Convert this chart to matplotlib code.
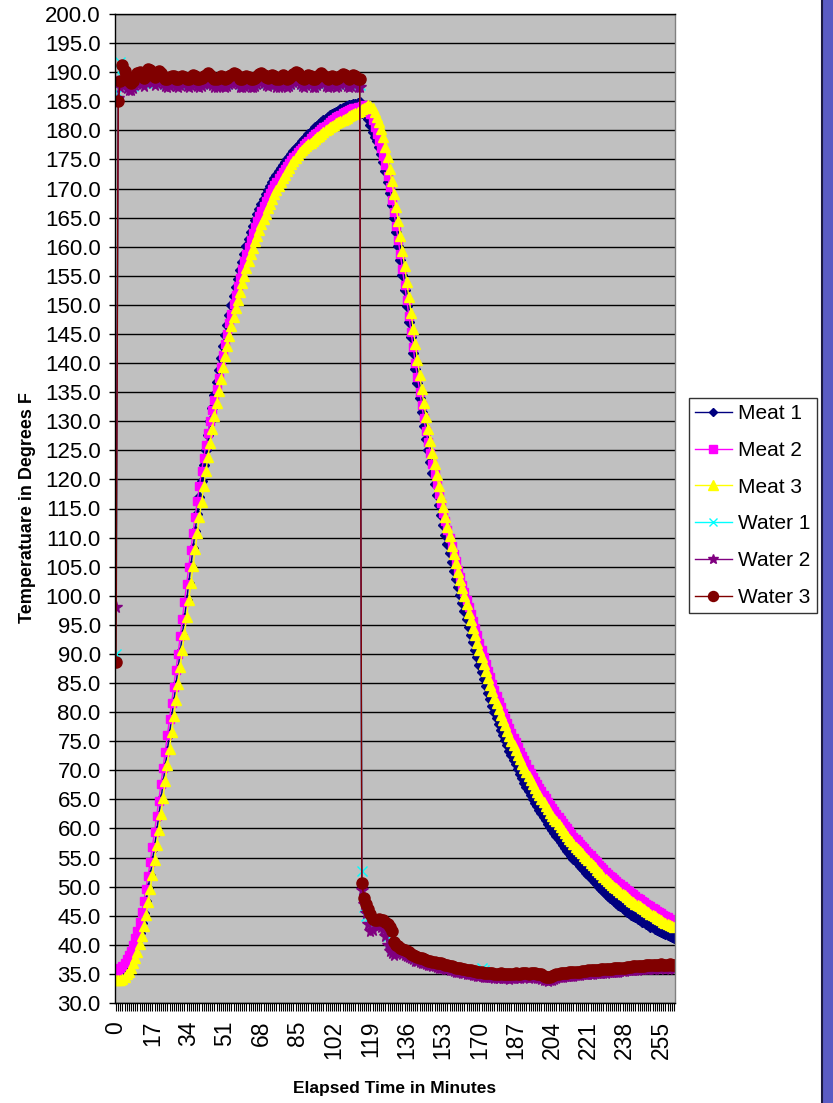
import numpy as np
import matplotlib
matplotlib.use("Agg")
import matplotlib.pyplot as plt
from matplotlib.patches import Rectangle
from matplotlib.lines import Line2D

plt.rcParams['font.family'] = ['Liberation Sans', 'DejaVu Sans']

# Temperatures (deg F), one reading per minute, rows of 10 values
meat1 = [
    34.8, 34.9, 35.1, 35.4, 35.8, 36.3, 36.9, 37.6, 38.5, 39.5,
    40.7, 42.1, 43.7, 45.5, 47.5, 49.7, 52.0, 54.4, 56.9, 59.5,
    62.2, 65.0, 67.8, 70.6, 73.4, 76.2, 79.0, 81.8, 84.6, 87.4,
    90.3, 93.2, 96.2, 99.2, 102.2, 105.2, 108.2, 111.2, 114.1, 117.0,
    119.8, 122.5, 125.1, 127.6, 130.0, 132.3, 134.5, 136.7, 138.8, 140.9,
    142.9, 144.8, 146.6, 148.3, 149.9, 151.5, 153.0, 154.5, 156.0, 157.4,
    158.8, 160.1, 161.3, 162.5, 163.6, 164.6, 165.6, 166.5, 167.4, 168.2,
    169.0, 169.8, 170.5, 171.2, 171.8, 172.4, 173.0, 173.5, 174.0, 174.5,
    175.0, 175.5, 176.0, 176.5, 176.9, 177.3, 177.7, 178.1, 178.5, 178.9,
    179.3, 179.7, 180.1, 180.5, 180.8, 181.1, 181.4, 181.7, 182.0, 182.3,
    182.6, 182.8, 183.0, 183.2, 183.4, 183.6, 183.8, 184.0, 184.2, 184.3,
    184.4, 184.5, 184.6, 184.7, 184.8, 183.0, 183.1, 182.8, 182.0, 181.0,
    179.8, 178.9, 178.1, 177.2, 176.0, 174.6, 173.0, 171.2, 169.2, 167.1,
    164.9, 162.6, 160.2, 157.7, 155.1, 152.5, 149.8, 147.1, 144.4, 141.7,
    139.0, 136.5, 134.0, 131.6, 129.2, 127.0, 125.0, 123.0, 121.1, 119.2,
    117.4, 115.6, 113.9, 112.2, 110.5, 108.9, 107.3, 105.8, 104.3, 102.9,
    101.5, 100.1, 98.8, 97.4, 96.0, 94.6, 93.3, 92.0, 90.7, 89.4,
    88.1, 86.9, 85.7, 84.5, 83.3, 82.2, 81.1, 80.0, 79.0, 78.0,
    77.0, 76.1, 75.2, 74.3, 73.4, 72.6, 71.8, 71.0, 70.2, 69.4,
    68.6, 67.9, 67.2, 66.5, 65.8, 65.1, 64.4, 63.8, 63.2, 62.6,
    62.0, 61.4, 60.8, 60.2, 59.7, 59.2, 58.7, 58.2, 57.7, 57.2,
    56.7, 56.2, 55.7, 55.3, 54.8, 54.4, 54.0, 53.6, 53.2, 52.8,
    52.4, 52.0, 51.6, 51.2, 50.8, 50.4, 50.0, 49.6, 49.2, 48.8,
    48.4, 48.1, 47.8, 47.5, 47.2, 46.9, 46.6, 46.3, 46.0, 45.7,
    45.4, 45.1, 45.0, 44.7, 44.5, 44.3, 44.0, 43.9, 43.6, 43.4,
    43.1, 43.0, 42.8, 42.6, 42.4, 42.2, 42.1, 41.9, 41.7, 41.6,
    41.4, 41.2,
]

meat2 = [
    35.5, 35.7, 36.0, 36.4, 36.9, 37.5, 38.2, 39.0, 40.0, 41.1,
    42.4, 43.9, 45.6, 47.5, 49.6, 51.9, 54.3, 56.8, 59.4, 62.1,
    64.8, 67.6, 70.4, 73.2, 76.0, 78.8, 81.6, 84.4, 87.2, 90.0,
    93.0, 96.0, 99.0, 102.0, 105.0, 107.9, 110.8, 113.6, 116.3, 118.9,
    121.4, 123.7, 125.9, 128.0, 130.0, 131.9, 133.7, 135.6, 137.5, 139.4,
    141.3, 143.2, 145.0, 146.8, 148.5, 150.1, 151.7, 153.2, 154.7, 156.1,
    157.5, 158.8, 160.0, 161.2, 162.3, 163.4, 164.4, 165.3, 166.2, 167.0,
    167.8, 168.6, 169.3, 170.0, 170.6, 171.2, 171.8, 172.4, 172.9, 173.4,
    173.9, 174.4, 174.9, 175.4, 175.8, 176.2, 176.6, 177.0, 177.4, 177.8,
    178.2, 178.6, 179.0, 179.3, 179.6, 179.9, 180.2, 180.5, 180.8, 181.1,
    181.4, 181.7, 182.0, 182.3, 182.5, 182.7, 182.9, 183.1, 183.3, 183.5,
    183.7, 183.8, 183.9, 184.0, 184.1, 184.2, 184.3, 184.0, 183.6, 182.8,
    181.8, 180.6, 179.3, 178.2, 177.0, 175.6, 174.0, 172.2, 170.2, 168.1,
    165.9, 163.6, 161.2, 158.7, 156.1, 153.5, 150.8, 148.1, 145.4, 142.7,
    140.0, 137.6, 135.1, 132.8, 130.5, 128.3, 126.4, 124.5, 122.7, 120.9,
    119.2, 117.5, 115.9, 114.3, 112.8, 111.3, 109.9, 108.5, 107.2, 105.9,
    104.5, 103.2, 101.9, 100.6, 99.3, 98.0, 96.8, 95.6, 94.4, 93.2,
    91.9, 90.7, 89.5, 88.3, 87.1, 86.0, 84.9, 83.8, 82.8, 81.8,
    80.8, 79.9, 79.0, 78.1, 77.2, 76.4, 75.6, 74.8, 74.0, 73.2,
    72.4, 71.7, 71.0, 70.3, 69.6, 68.9, 68.2, 67.6, 67.0, 66.4,
    65.8, 65.2, 64.6, 64.0, 63.5, 63.0, 62.5, 62.0, 61.5, 61.0,
    60.5, 60.0, 59.5, 59.1, 58.6, 58.2, 57.8, 57.4, 57.0, 56.6,
    56.2, 55.8, 55.4, 55.0, 54.6, 54.2, 53.8, 53.4, 53.0, 52.6,
    52.2, 51.9, 51.6, 51.3, 51.0, 50.7, 50.4, 50.1, 49.8, 49.5,
    49.2, 48.9, 48.7, 48.4, 48.1, 47.9, 47.6, 47.4, 47.1, 46.9,
    46.6, 46.3, 46.1, 45.8, 45.6, 45.4, 45.1, 44.9, 44.7, 44.5,
    44.3, 44.0,
]

meat3 = [
    34.0, 33.9, 34.0, 34.2, 34.5, 34.9, 35.4, 36.0, 36.8, 37.7,
    38.8, 40.1, 41.6, 43.3, 45.2, 47.3, 49.6, 52.0, 54.5, 57.1,
    59.8, 62.5, 65.3, 68.1, 70.9, 73.7, 76.5, 79.3, 82.1, 84.9,
    87.7, 90.6, 93.5, 96.4, 99.3, 102.2, 105.1, 108.0, 110.8, 113.5,
    116.2, 118.8, 121.4, 123.9, 126.3, 128.6, 130.9, 133.1, 135.2, 137.3,
    139.3, 141.2, 143.0, 144.7, 146.3, 147.9, 149.4, 150.9, 152.3, 153.7,
    155.0, 156.3, 157.5, 158.7, 159.8, 160.9, 161.9, 162.9, 163.9, 164.8,
    165.7, 166.6, 167.4, 168.2, 169.0, 169.7, 170.4, 171.1, 171.8, 172.4,
    173.0, 173.6, 174.2, 174.8, 175.3, 175.8, 176.2, 176.6, 177.0, 177.3,
    177.6, 177.9, 178.2, 178.5, 178.8, 179.1, 179.4, 179.7, 180.0, 180.3,
    180.6, 180.8, 181.0, 181.2, 181.4, 181.6, 181.8, 182.0, 182.2, 182.4,
    182.6, 182.8, 183.0, 183.2, 183.4, 183.7, 183.9, 184.1, 184.3, 184.2,
    183.8, 183.1, 182.3, 181.4, 180.2, 178.8, 177.2, 175.4, 173.4, 171.3,
    169.1, 166.8, 164.4, 161.9, 159.3, 156.7, 154.0, 151.3, 148.6, 145.9,
    143.2, 140.6, 138.0, 135.5, 133.1, 130.8, 128.7, 126.6, 124.6, 122.6,
    120.7, 118.8, 117.0, 115.2, 113.5, 111.8, 110.2, 108.6, 107.1, 105.6,
    104.1, 102.7, 101.3, 99.9, 98.5, 97.1, 95.8, 94.5, 93.2, 91.9,
    90.6, 89.4, 88.2, 87.0, 85.8, 84.7, 83.6, 82.5, 81.5, 80.5,
    79.5, 78.6, 77.7, 76.8, 75.9, 75.1, 74.3, 73.5, 72.7, 71.9,
    71.1, 70.4, 69.7, 69.0, 68.3, 67.6, 66.9, 66.3, 65.7, 65.1,
    64.5, 63.9, 63.3, 62.7, 62.2, 61.7, 61.2, 60.7, 60.2, 59.7,
    59.2, 58.7, 58.2, 57.8, 57.3, 56.9, 56.5, 56.1, 55.7, 55.3,
    54.9, 54.5, 54.1, 53.7, 53.3, 52.9, 52.5, 52.1, 51.7, 51.3,
    50.9, 50.6, 50.3, 50.0, 49.7, 49.4, 49.1, 48.8, 48.5, 48.2,
    47.9, 47.6, 47.4, 47.1, 46.8, 46.6, 46.3, 46.1, 45.8, 45.6,
    45.3, 45.1, 44.9, 44.6, 44.4, 44.2, 44.0, 43.8, 43.6, 43.4,
    43.2, 43.0,
]

water1 = [
    90.0, 186.5, 191.8, 190.8, 189.2, 188.3, 187.6, 187.4, 187.7, 188.3,
    188.6, 188.9, 188.4, 188.1, 188.7, 189.3, 189.0, 188.5, 188.2, 188.6,
    189.0, 188.8, 188.3, 188.0, 187.9, 188.1, 188.4, 188.3, 188.0, 187.9,
    188.2, 188.5, 188.3, 188.0, 187.9, 188.2, 188.5, 188.3, 188.0, 187.9,
    188.0, 188.3, 188.6, 188.8, 188.6, 188.2, 187.9, 187.8, 188.0, 188.3,
    188.1, 187.9, 188.0, 188.3, 188.6, 188.9, 188.7, 188.3, 187.9, 187.8,
    188.1, 188.4, 188.2, 187.9, 187.8, 188.0, 188.4, 188.7, 188.9, 188.6,
    188.2, 188.0, 188.3, 188.6, 188.3, 187.9, 187.8, 188.1, 188.5, 188.2,
    187.9, 188.0, 188.3, 188.7, 189.0, 188.8, 188.4, 188.0, 187.9, 188.2,
    188.5, 188.3, 187.9, 187.8, 188.2, 188.6, 188.8, 188.5, 188.1, 187.9,
    188.1, 188.4, 188.2, 187.9, 188.0, 188.4, 188.7, 188.5, 188.1, 187.9,
    188.1, 188.5, 188.3, 187.9, 187.8, 52.7, 46.5, 45.0, 44.6, 44.2,
    43.8, 44.0, 44.4, 44.1, 43.8, 43.5, 42.8, 41.5, 40.5, 39.5,
    39.0, 39.6, 39.4, 39.2, 39.0, 38.8, 38.6, 38.4, 38.2, 38.0,
    37.8, 37.6, 37.5, 37.4, 37.2, 37.1, 37.0, 36.9, 36.8, 36.7,
    36.6, 36.5, 36.5, 36.4, 36.3, 36.2, 36.1, 36.0, 35.9, 35.8,
    35.7, 35.7, 35.6, 35.5, 35.4, 35.4, 35.3, 35.2, 35.2, 35.1,
    35.3, 36.0, 35.6, 35.0, 34.9, 34.9, 34.8, 34.8, 34.8, 34.8,
    34.8, 34.8, 34.8, 34.7, 34.7, 34.7, 34.8, 34.8, 34.8, 34.8,
    34.9, 34.9, 34.9, 34.8, 34.9, 34.9, 35.0, 34.8, 34.8, 34.7,
    34.5, 34.4, 34.3, 34.4, 34.5, 34.6, 34.7, 34.8, 34.9, 34.9,
    35.0, 35.0, 35.1, 35.1, 35.1, 35.2, 35.2, 35.2, 35.3, 35.3,
    35.3, 35.4, 35.4, 35.4, 35.5, 35.5, 35.5, 35.6, 35.6, 35.6,
    35.7, 35.7, 35.7, 35.8, 35.8, 35.8, 35.9, 35.9, 35.9, 36.0,
    36.0, 36.0, 36.1, 36.1, 36.1, 36.2, 36.2, 36.2, 36.3, 36.3,
    36.3, 36.3, 36.3, 36.4, 36.4, 36.4, 36.4, 36.3, 36.4, 36.4,
    36.4, 36.3,
]

water2 = [
    98.0, 185.5, 187.5, 189.0, 188.0, 187.2, 186.9, 187.0, 187.3, 187.8,
    188.2, 188.5, 188.0, 187.7, 188.3, 188.9, 188.6, 188.1, 187.8, 188.2,
    188.6, 188.4, 187.9, 187.6, 187.5, 187.7, 188.0, 187.9, 187.6, 187.5,
    187.8, 188.1, 187.9, 187.6, 187.5, 187.8, 188.1, 187.9, 187.6, 187.5,
    187.6, 187.9, 188.2, 188.4, 188.2, 187.8, 187.5, 187.4, 187.6, 187.9,
    187.7, 187.5, 187.6, 187.9, 188.2, 188.5, 188.3, 187.9, 187.5, 187.4,
    187.7, 188.0, 187.8, 187.5, 187.4, 187.6, 188.0, 188.3, 188.5, 188.2,
    187.8, 187.6, 187.9, 188.2, 187.9, 187.5, 187.4, 187.7, 188.1, 187.8,
    187.5, 187.6, 187.9, 188.3, 188.6, 188.4, 188.0, 187.6, 187.5, 187.8,
    188.1, 187.9, 187.5, 187.4, 187.8, 188.2, 188.4, 188.1, 187.7, 187.5,
    187.7, 188.0, 187.8, 187.5, 187.6, 188.0, 188.3, 188.1, 187.7, 187.5,
    187.7, 188.1, 187.9, 187.5, 187.4, 49.5, 47.0, 45.5, 43.5, 42.4,
    42.6, 43.5, 43.8, 43.4, 43.0, 42.5, 41.5, 40.0, 39.0, 38.6,
    38.3, 38.9, 38.8, 38.6, 38.4, 38.2, 38.0, 37.9, 37.7, 37.5,
    37.3, 37.2, 37.1, 36.9, 36.8, 36.7, 36.6, 36.5, 36.4, 36.3,
    36.2, 36.1, 36.1, 36.0, 35.9, 35.8, 35.7, 35.6, 35.5, 35.4,
    35.4, 35.3, 35.2, 35.1, 35.0, 35.0, 34.9, 34.8, 34.8, 34.7,
    34.6, 34.6, 34.5, 34.5, 34.4, 34.4, 34.4, 34.3, 34.3, 34.3,
    34.4, 34.3, 34.3, 34.3, 34.2, 34.3, 34.3, 34.4, 34.3, 34.3,
    34.4, 34.5, 34.4, 34.3, 34.4, 34.5, 34.4, 34.3, 34.3, 34.2,
    34.0, 33.9, 33.8, 33.9, 34.0, 34.2, 34.3, 34.4, 34.5, 34.5,
    34.6, 34.6, 34.7, 34.7, 34.7, 34.8, 34.8, 34.8, 34.9, 34.9,
    34.9, 35.0, 35.0, 35.0, 35.1, 35.1, 35.1, 35.2, 35.2, 35.2,
    35.3, 35.3, 35.3, 35.4, 35.4, 35.4, 35.5, 35.5, 35.5, 35.6,
    35.6, 35.6, 35.7, 35.7, 35.7, 35.8, 35.8, 35.8, 35.9, 35.9,
    36.0, 35.9, 35.9, 36.0, 36.0, 36.1, 36.0, 35.9, 36.0, 36.1,
    36.0, 35.9,
]

water3 = [
    88.6, 185.0, 188.4, 191.3, 190.2, 189.2, 188.4, 188.2, 188.5, 189.4,
    189.8, 190.1, 189.5, 189.0, 189.8, 190.6, 190.3, 189.6, 189.2, 189.7,
    190.2, 189.9, 189.3, 188.9, 188.8, 189.1, 189.4, 189.3, 188.9, 188.8,
    189.1, 189.4, 189.2, 188.9, 188.8, 189.2, 189.5, 189.3, 188.9, 188.8,
    189.0, 189.3, 189.6, 189.8, 189.6, 189.2, 188.9, 188.8, 189.0, 189.3,
    189.1, 188.9, 189.0, 189.3, 189.6, 189.9, 189.7, 189.3, 188.9, 188.8,
    189.1, 189.4, 189.2, 188.9, 188.8, 189.0, 189.4, 189.7, 189.9, 189.6,
    189.2, 189.0, 189.3, 189.6, 189.3, 188.9, 188.8, 189.1, 189.5, 189.2,
    188.9, 189.0, 189.3, 189.7, 190.0, 189.8, 189.4, 189.0, 188.9, 189.2,
    189.5, 189.3, 188.9, 188.8, 189.2, 189.6, 189.8, 189.5, 189.1, 188.9,
    189.1, 189.4, 189.2, 188.9, 189.0, 189.4, 189.7, 189.5, 189.1, 188.9,
    189.1, 189.5, 189.3, 188.9, 188.8, 50.6, 48.0, 47.0, 46.2, 45.3,
    44.5, 44.2, 44.3, 44.4, 44.2, 44.3, 44.0, 43.6, 43.0, 42.4,
    40.4, 40.0, 39.8, 39.5, 39.3, 39.1, 38.9, 38.7, 38.5, 38.3,
    38.1, 37.9, 37.8, 37.7, 37.5, 37.4, 37.3, 37.2, 37.1, 37.0,
    36.9, 36.8, 36.8, 36.7, 36.6, 36.5, 36.4, 36.3, 36.2, 36.1,
    36.0, 36.0, 35.9, 35.8, 35.7, 35.7, 35.6, 35.5, 35.5, 35.4,
    35.3, 35.3, 35.2, 35.2, 35.1, 35.1, 35.1, 35.0, 35.0, 35.0,
    35.1, 35.0, 35.0, 35.0, 34.9, 35.0, 35.0, 35.1, 35.0, 35.0,
    35.1, 35.2, 35.1, 35.0, 35.1, 35.2, 35.1, 35.0, 35.0, 34.9,
    34.7, 34.5, 34.4, 34.5, 34.6, 34.8, 34.9, 35.0, 35.1, 35.1,
    35.2, 35.2, 35.3, 35.3, 35.3, 35.4, 35.4, 35.4, 35.5, 35.5,
    35.5, 35.6, 35.6, 35.6, 35.7, 35.7, 35.7, 35.8, 35.8, 35.8,
    35.9, 35.9, 35.9, 36.0, 36.0, 36.0, 36.1, 36.1, 36.1, 36.2,
    36.2, 36.2, 36.3, 36.3, 36.3, 36.4, 36.4, 36.4, 36.5, 36.5,
    36.6, 36.5, 36.5, 36.6, 36.6, 36.7, 36.6, 36.5, 36.6, 36.7,
    36.6, 36.5,
]

series_names = ['Meat 1', 'Meat 2', 'Meat 3', 'Water 1', 'Water 2', 'Water 3']
tick_labels = ['0', '17', '34', '51', '68', '85', '102', '119', '136',
               '153', '170', '187', '204', '221', '238', '255']

series = [meat1, meat2, meat3, water1, water2, water3]
for name, s in zip(series_names, series):
    if len(s) != len(meat1):
        raise ValueError(f"{name} has {len(s)} values, expected {len(meat1)}")

minutes = np.arange(len(meat1))

# excel-ish styles: colour, marker, marker size
styles = [
    ('#000080', 'D', 4.6),
    ('#FF00FF', 's', 6.2),
    ('#FFFF00', '^', 7.6),
    ('#00FFFF', 'x', 7.0),
    ('#800080', '*', 8.5),
    ('#800000', 'o', 8.0),
]

W, H = 833, 1103
fig = plt.figure(figsize=(W / 100, H / 100), dpi=100)
fig.patch.set_facecolor('white')
ax = fig.add_axes([115 / W, 1 - 1003 / H, 560 / W, 989 / H])
ax.set_facecolor('#C0C0C0')

for name, s, (c, m, ms) in zip(series_names, series, styles):
    ax.plot(minutes, s, color=c, lw=1.0, marker=m, ms=ms,
            mfc=c, mec=c, mew=1.0, label=name)

ax.set_xlim(-0.5, len(meat1) - 0.5)
ax.set_ylim(30, 200)
ax.set_yticks(np.arange(30, 201, 5))
ax.set_yticklabels([f"{v:.1f}" for v in np.arange(30, 201, 5)])
ax.set_xticks(minutes[::17][:len(tick_labels)])
ax.set_xticklabels(tick_labels, rotation=90)
ax.set_xticks(minutes, minor=True)

ax.yaxis.grid(True, color='black', lw=1.0)
ax.set_axisbelow(True)

ax.tick_params(axis='y', direction='out', length=4.3, width=1.0,
               labelsize=16, pad=6, colors='black')
ax.tick_params(axis='x', which='both', direction='out', length=5.8,
               width=0.8, labelsize=16.5, pad=7)

for side in ['left', 'bottom', 'top']:
    ax.spines[side].set_color('black')
    ax.spines[side].set_linewidth(1.0)
ax.spines['right'].set_color('#808080')
ax.spines['right'].set_linewidth(1.0)

fig.text(28 / W, 1 - 508 / H, 'Temperatuare in Degrees F', rotation=90,
         ha='center', va='center', fontsize=13, fontweight='bold')
fig.text(395 / W, 1 - 1088 / H, 'Elapsed Time in Minutes',
         ha='center', va='center', fontsize=12.5, fontweight='bold')

# legend with line + marker handles
handles = [Line2D([], [], color=c, lw=1.0, marker=m, ms=ms * 0.9, mfc=c, mec=c)
           for (c, m, ms) in styles]
leg = fig.legend(handles, series_names, loc='upper left',
                 bbox_to_anchor=(689 / W, 1 - 398 / H), fontsize=15,
                 frameon=True, fancybox=False, shadow=False,
                 handlelength=1.75, handletextpad=0.3, labelspacing=0.85,
                 borderpad=0.3, borderaxespad=0.0, numpoints=1)
leg.get_frame().set_edgecolor('black')
leg.get_frame().set_linewidth(1.0)

# the blue strip on the right edge of the slide
fig.patches.append(Rectangle((822 / W, 0), 11 / W, 1, transform=fig.transFigure,
                             facecolor='#5a5cc4', edgecolor='none'))
fig.lines.append(Line2D([821.5 / W, 821.5 / W], [0, 1], transform=fig.transFigure,
                        color='#1a1a40', lw=1.5))

fig.savefig('out.png', dpi=100)
